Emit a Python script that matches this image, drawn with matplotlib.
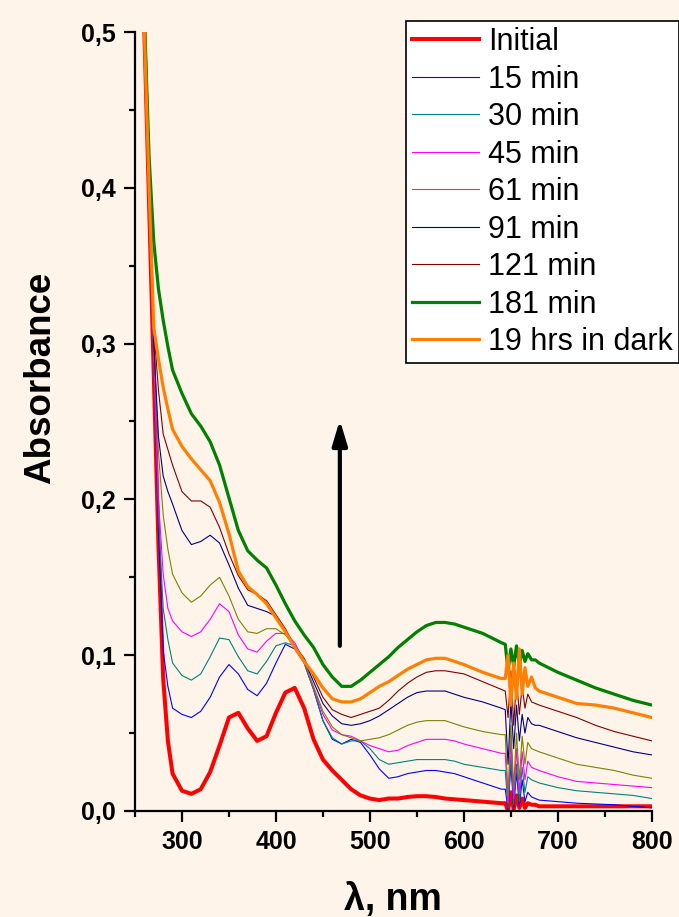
import matplotlib
matplotlib.use("Agg")
import matplotlib.pyplot as plt
from matplotlib.ticker import MultipleLocator

plt.rcParams['font.family'] = ['Liberation Sans', 'DejaVu Sans']

# ---- data ----
wavelength = [250, 255, 260, 265, 270, 275, 280, 285, 290, 300, 310, 320, 330, 340, 350,
              360, 370, 380, 390, 400, 410, 420, 430, 440, 450, 460, 470, 480, 490, 500,
              510, 520, 530, 540, 550, 560, 570, 580, 590, 600, 620, 640,
              644, 647, 650, 653, 656, 659, 662, 665, 668, 672, 676,
              680, 700, 720, 740, 760, 780, 800]

initial = [0.70, 0.60, 0.50, 0.39, 0.28, 0.17, 0.085, 0.045, 0.024, 0.013, 0.011, 0.014, 0.025, 0.042, 0.060,
           0.063, 0.053, 0.045, 0.048, 0.063, 0.076, 0.079, 0.066, 0.046, 0.033, 0.026, 0.020, 0.014, 0.010, 0.008,
           0.007, 0.008, 0.008, 0.009, 0.0095, 0.0095, 0.009, 0.008, 0.0075, 0.007, 0.006, 0.005,
           0.005, 0.000, 0.012, 0.001, 0.010, 0.002, 0.008, 0.002, 0.005, 0.004, 0.004,
           0.003, 0.003, 0.003, 0.003, 0.003, 0.003, 0.003]
min15 = [0.70, 0.60, 0.50, 0.40, 0.29, 0.18, 0.103, 0.080, 0.066, 0.062, 0.060, 0.064, 0.073, 0.086, 0.094,
         0.088, 0.078, 0.074, 0.082, 0.095, 0.107, 0.104, 0.095, 0.078, 0.058, 0.046, 0.043, 0.046, 0.044, 0.036,
         0.027, 0.021, 0.022, 0.024, 0.025, 0.026, 0.026, 0.025, 0.024, 0.022, 0.018, 0.014,
         0.014, 0.001, 0.030, 0.002, 0.025, 0.003, 0.020, 0.006, 0.012, 0.009, 0.008,
         0.007, 0.006, 0.005, 0.0045, 0.004, 0.003, 0.002]
min30 = [0.70, 0.60, 0.50, 0.40, 0.29, 0.19, 0.13, 0.11, 0.095, 0.087, 0.084, 0.088, 0.099, 0.111, 0.110,
         0.099, 0.090, 0.088, 0.096, 0.106, 0.108, 0.106, 0.095, 0.078, 0.058, 0.047, 0.043, 0.045, 0.045, 0.040,
         0.033, 0.030, 0.031, 0.032, 0.033, 0.033, 0.033, 0.033, 0.032, 0.030, 0.028, 0.026,
         0.026, 0.002, 0.035, 0.004, 0.030, 0.006, 0.028, 0.012, 0.022, 0.020, 0.019,
         0.018, 0.015, 0.013, 0.012, 0.011, 0.010, 0.008]
min45 = [0.70, 0.60, 0.50, 0.40, 0.29, 0.20, 0.152, 0.130, 0.122, 0.115, 0.112, 0.115, 0.123, 0.133, 0.128,
         0.113, 0.104, 0.102, 0.109, 0.114, 0.114, 0.108, 0.096, 0.079, 0.062, 0.052, 0.049, 0.048, 0.045, 0.042,
         0.040, 0.038, 0.039, 0.042, 0.044, 0.046, 0.046, 0.046, 0.045, 0.043, 0.040, 0.037,
         0.037, 0.005, 0.045, 0.008, 0.040, 0.012, 0.038, 0.020, 0.032, 0.028, 0.027,
         0.026, 0.022, 0.019, 0.018, 0.017, 0.016, 0.015]
min61 = [0.70, 0.60, 0.50, 0.40, 0.30, 0.23, 0.19, 0.168, 0.152, 0.140, 0.134, 0.138, 0.145, 0.150, 0.138,
         0.123, 0.115, 0.114, 0.117, 0.117, 0.113, 0.106, 0.096, 0.080, 0.064, 0.054, 0.049, 0.047, 0.045, 0.046,
         0.047, 0.049, 0.052, 0.055, 0.057, 0.058, 0.058, 0.058, 0.056, 0.054, 0.051, 0.049,
         0.049, 0.010, 0.055, 0.015, 0.050, 0.020, 0.048, 0.030, 0.044, 0.040, 0.039,
         0.038, 0.034, 0.030, 0.028, 0.026, 0.023, 0.021]
min91 = [0.70, 0.60, 0.50, 0.40, 0.30, 0.24, 0.215, 0.205, 0.197, 0.180, 0.171, 0.173, 0.177, 0.172, 0.158,
         0.143, 0.132, 0.130, 0.128, 0.125, 0.115, 0.105, 0.097, 0.083, 0.069, 0.061, 0.056, 0.055, 0.056, 0.058,
         0.061, 0.065, 0.069, 0.073, 0.076, 0.077, 0.077, 0.077, 0.075, 0.073, 0.070, 0.066,
         0.065, 0.030, 0.070, 0.040, 0.068, 0.045, 0.062, 0.050, 0.060, 0.056, 0.055,
         0.055, 0.051, 0.047, 0.044, 0.041, 0.038, 0.036]
min121 = [0.70, 0.60, 0.50, 0.40, 0.31, 0.27, 0.242, 0.232, 0.222, 0.205, 0.199, 0.199, 0.195, 0.182, 0.165,
          0.151, 0.142, 0.139, 0.135, 0.126, 0.117, 0.106, 0.098, 0.086, 0.073, 0.065, 0.062, 0.060, 0.062, 0.064,
          0.066, 0.071, 0.077, 0.082, 0.086, 0.089, 0.090, 0.090, 0.089, 0.088, 0.083, 0.078,
          0.077, 0.060, 0.090, 0.055, 0.085, 0.062, 0.080, 0.066, 0.075, 0.070, 0.069,
          0.068, 0.064, 0.060, 0.055, 0.051, 0.048, 0.045]
min181 = [0.71, 0.61, 0.51, 0.42, 0.365, 0.335, 0.315, 0.298, 0.283, 0.268, 0.255, 0.247, 0.237, 0.222, 0.201,
          0.180, 0.167, 0.161, 0.156, 0.145, 0.133, 0.122, 0.113, 0.105, 0.094, 0.086, 0.080, 0.080, 0.084, 0.089,
          0.094, 0.099, 0.105, 0.110, 0.115, 0.119, 0.121, 0.121, 0.120, 0.118, 0.114, 0.108,
          0.107, 0.090, 0.104, 0.093, 0.106, 0.094, 0.103, 0.096, 0.101, 0.097, 0.097,
          0.095, 0.089, 0.084, 0.079, 0.075, 0.071, 0.068]
dark19h = [0.70, 0.60, 0.50, 0.40, 0.31, 0.29, 0.272, 0.258, 0.245, 0.234, 0.226, 0.219, 0.212, 0.198, 0.178,
           0.154, 0.144, 0.139, 0.133, 0.124, 0.115, 0.105, 0.096, 0.088, 0.079, 0.072, 0.070, 0.070, 0.072, 0.076,
           0.080, 0.083, 0.087, 0.091, 0.094, 0.097, 0.098, 0.098, 0.096, 0.094, 0.089, 0.085,
           0.085, 0.100, 0.068, 0.095, 0.072, 0.104, 0.075, 0.092, 0.080, 0.086, 0.079,
           0.077, 0.073, 0.069, 0.068, 0.066, 0.063, 0.060]

series_labels = ['Initial', '15 min', '30 min', '45 min', '61 min', '91 min', '121 min',
                 '181 min', '19 hrs in dark']
series_values = [initial, min15, min30, min45, min61, min91, min121, min181, dark19h]

x_ticks = [300, 400, 500, 600, 700, 800]
x_tick_labels = ['300', '400', '500', '600', '700', '800']
y_ticks = [0.0, 0.1, 0.2, 0.3, 0.4, 0.5]
y_tick_labels = ['0,0', '0,1', '0,2', '0,3', '0,4', '0,5']

# arrow (data coordinates)
arrow_x = 468
arrow_y_start = 0.106
arrow_y_end = 0.251

# ---- styling ----
colors = ['#FF0000', '#0000FF', '#008080', '#FF00FF', '#808000', '#000080', '#800000',
          '#008000', '#FF8000']
widths = [2.9, 0.8, 0.8, 0.8, 0.8, 0.8, 0.8, 2.3, 2.3]
bg = '#FEF4E9'

fig = plt.figure(figsize=(6.79, 9.17), dpi=100, facecolor=bg)
ax = fig.add_axes([0.1988, 0.1156, 0.7612, 0.8495], facecolor=bg)

for vals, lab, c, lw in zip(series_values, series_labels, colors, widths):
    ax.plot(wavelength, vals, color=c, lw=lw, label=lab)

ax.set_xlim(250, 800)
ax.set_ylim(0, 0.5)
ax.set_xticks(x_ticks)
ax.set_xticklabels(x_tick_labels)
ax.set_yticks(y_ticks)
ax.set_yticklabels(y_tick_labels)
ax.xaxis.set_minor_locator(MultipleLocator(50))
ax.yaxis.set_minor_locator(MultipleLocator(0.05))

for s in ['top', 'right']:
    ax.spines[s].set_visible(False)
for s in ['left', 'bottom']:
    ax.spines[s].set_linewidth(1.6)
    ax.spines[s].set_color('black')

ax.tick_params(which='major', direction='out', length=8, width=1.6, labelsize=18, pad=6)
ax.tick_params(which='minor', direction='out', length=4.5, width=1.6)
for t in ax.get_xticklabels() + ax.get_yticklabels():
    t.set_fontweight('bold')

ax.set_xlabel('λ, nm', fontsize=27, fontweight='bold', labelpad=20)
ax.set_ylabel('Absorbance', fontsize=26.5, fontweight='bold')
ax.yaxis.set_label_coords(-0.148, 0.556)

ax.annotate('', xy=(arrow_x, arrow_y_end), xytext=(arrow_x, arrow_y_start),
            arrowprops=dict(arrowstyle='-|>,head_length=1.5,head_width=0.45',
                            color='black', lw=3, shrinkA=0, shrinkB=0))

leg = fig.legend(loc='upper left', bbox_to_anchor=(406 / 679, 1 - 21 / 917),
                 fontsize=22, frameon=True, fancybox=False, framealpha=1,
                 edgecolor='black', facecolor='white', handlelength=2.2,
                 handletextpad=0.3, labelspacing=0.245, borderpad=0.2,
                 borderaxespad=0)
leg.get_frame().set_linewidth(1.2)

fig.savefig('out.png', dpi=100, facecolor=bg)
